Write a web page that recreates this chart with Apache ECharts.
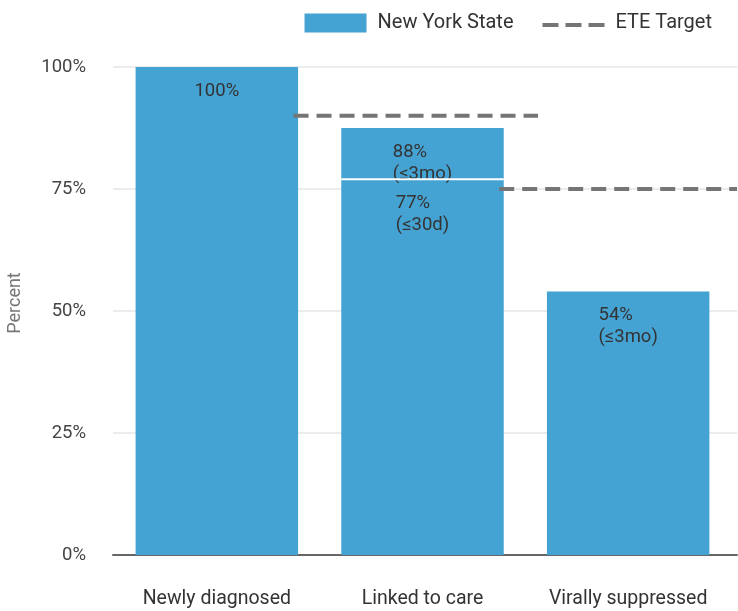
<!DOCTYPE html>
<html>
<head>
<meta charset="utf-8">
<script src="https://cdn.jsdelivr.net/npm/echarts@6/dist/echarts.min.js"></script>
<style>html,body{margin:0;padding:0;background:#fff}#c{width:738px;height:611px}</style>
</head>
<body>
<div id="c"></div>
<script>
// ---- data ----
const categories = ['Newly diagnosed', 'Linked to care', 'Virally suppressed'];
const nysValues = [100, 77, 54];            // base bar values
const nysLabels = ['100%', '77%\n(≤30d)', '54%\n(≤3mo)'];
const linkedWithin3mo = 87.5;               // Linked to care, ≤3 months
const linkedWithin3moLabel = '88%\n(≤3mo)';
const targetCategories = [1, 2];            // category index of each ETE target
const targetValues = [90, 75];

// ---- layout ----
const BLUE = '#45a3d3';
const TXT = '#333';
const fontFamily = 'Roboto, "Noto Sans", sans-serif';
const W = 738;
const TOP = 67, BOTTOM = 56;
const FRAME_L = 113, FRAME_R = 737;   // axis line / grid line extent
const BAND_L = 114, BAND_R = 731;     // category band extent
const band = (BAND_R - BAND_L) / categories.length;
const uMin = (FRAME_L - BAND_L) / band;
const uMax = (FRAME_R - BAND_L) / band;

function richLabel(s) {
  return s.split('\n').map(l => '{a|' + l + '}').join('\n');
}
const richStyle = { a: { align: 'left', color: TXT, fontSize: 18.5, lineHeight: 22, fontFamily } };

const topSeg = categories.map((c, i) => i === 1 ? linkedWithin3mo - nysValues[1] : null);

const targetSeries = targetCategories.map((ci, k) => ({
  name: 'ETE Target',
  type: 'line',
  xAxisIndex: 2,
  yAxisIndex: 1,
  symbol: 'none',
  silent: true,
  z: 5,
  lineStyle: { color: '#757575', width: 4, type: [15, 8] },
  itemStyle: { color: '#757575' },
  data: [[ci - 0.127, targetValues[k]], [Math.min(uMax, ci + 1.062), targetValues[k]]]
}));

const dashIcon = 'path://M0,9.5h16v4h-16z M23,9.5h16v4h-16z M46,9.5h16v4h-16z M0,0h0.01v0.01h-0.01z M61.99,18.99h0.01v0.01h-0.01z';

const option = {
  animation: false,
  textStyle: { fontFamily },
  legend: {
    top: 8, right: 21,
    itemWidth: 62, itemHeight: 19, itemGap: 29,
    textStyle: { fontSize: 20, color: '#333', fontFamily, padding: [0, 0, 0, 6] },
    data: [
      { name: 'New York State', icon: 'rect' },
      { name: 'ETE Target', icon: dashIcon, itemStyle: { color: '#757575' } }
    ]
  },
  grid: [
    { left: BAND_L, right: W - BAND_R, top: TOP, bottom: BOTTOM, outerBoundsMode: 'none', containLabel: false },
    { left: FRAME_L, right: W - FRAME_R, top: TOP, bottom: BOTTOM, outerBoundsMode: 'none', containLabel: false }
  ],
  xAxis: [
    {
      gridIndex: 0, type: 'category', data: categories,
      axisLine: { show: false },
      axisTick: { show: false },
      axisLabel: { color: TXT, fontSize: 19.5, margin: 34, fontFamily, interval: 0, hideOverlap: false }
    },
    {
      gridIndex: 1, type: 'value', min: 0, max: 1,
      axisLine: { show: true, onZero: false, lineStyle: { color: '#666', width: 2 } },
      axisTick: { show: false }, axisLabel: { show: false }, splitLine: { show: false }
    },
    {
      gridIndex: 1, type: 'value', min: uMin, max: uMax, show: false
    }
  ],
  yAxis: [
    {
      gridIndex: 0, type: 'value', min: 0, max: 100, interval: 25,
      name: 'Percent', nameLocation: 'middle', nameGap: 90,
      nameTextStyle: { color: '#777', fontSize: 18, fontFamily, padding: [0, 0, 0, 16] },
      axisLine: { show: false }, axisTick: { show: false },
      axisLabel: { color: '#444', fontSize: 18.5, margin: 28, formatter: v => v + '%', fontFamily },
      splitLine: { show: false }
    },
    {
      gridIndex: 1, type: 'value', min: 0, max: 100, interval: 25,
      axisLine: { show: false }, axisTick: { show: false }, axisLabel: { show: false },
      splitLine: { lineStyle: { color: '#e6e6e6', width: 1.5 } }
    }
  ],
  series: [
    {
      name: 'New York State', type: 'bar', stack: 'nys', barWidth: '79%', z: 3,
      xAxisIndex: 0, yAxisIndex: 0,
      itemStyle: { color: BLUE },
      label: {
        show: true, position: 'insideTop', distance: 13,
        formatter: p => richLabel(nysLabels[p.dataIndex]),
        rich: richStyle
      },
      data: nysValues
    },
    {
      name: 'New York State', type: 'bar', stack: 'nys', barWidth: '79%', z: 3,
      xAxisIndex: 0, yAxisIndex: 0,
      itemStyle: { color: BLUE },
      label: {
        show: true, position: 'insideTop', distance: 13,
        formatter: () => richLabel(linkedWithin3moLabel),
        rich: richStyle
      },
      data: topSeg
    },
    {
      name: 'sep', type: 'line', xAxisIndex: 2, yAxisIndex: 1, symbol: 'none', silent: true, z: 4,
      lineStyle: { color: '#fff', width: 2 },
      data: [[1 + 0.105, nysValues[1]], [2 - 0.105, nysValues[1]]]
    },
    ...targetSeries
  ]
};

const chart = echarts.init(document.getElementById('c'), null, { renderer: 'canvas' });
chart.setOption(option);
</script>
</body>
</html>
